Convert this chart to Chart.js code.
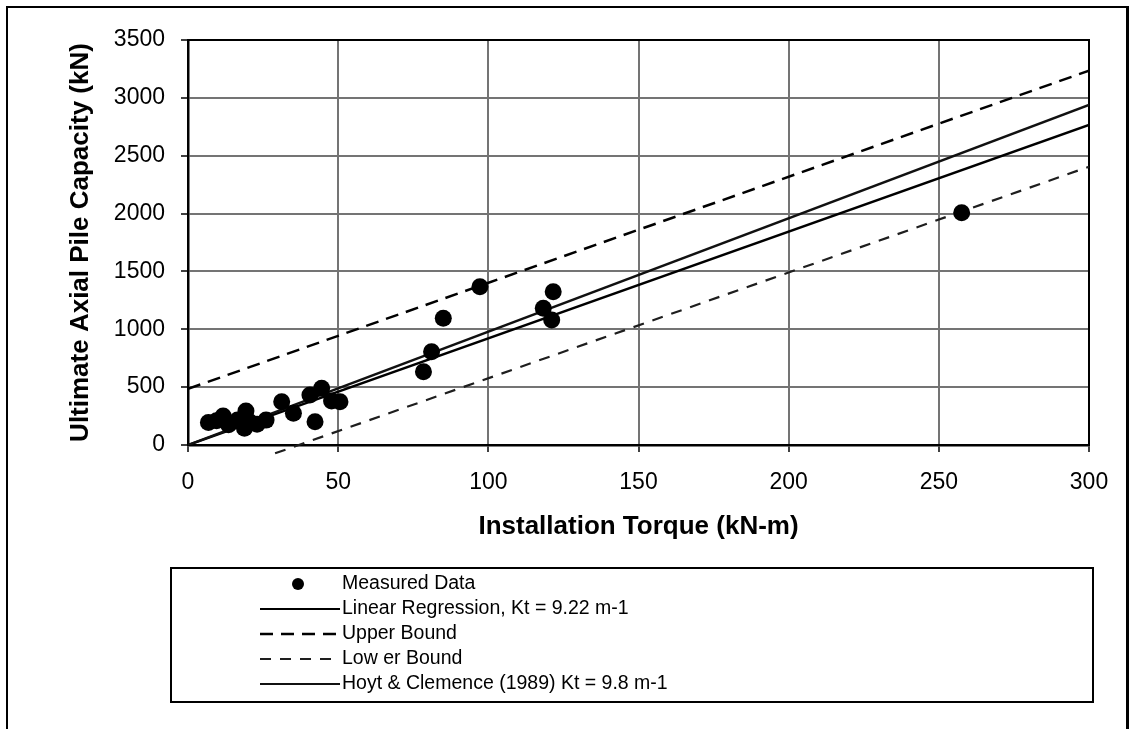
<!DOCTYPE html>
<html>
<head>
<meta charset="utf-8">
<title>Ultimate Axial Pile Capacity vs Installation Torque</title>
<script src="https://cdn.jsdelivr.net/npm/chart.js@4.4.1/dist/chart.umd.min.js"></script>
<style>
  html, body { margin: 0; padding: 0; background: #fff; }
  #wrap { position: relative; width: 1130px; height: 729px; overflow: hidden; }
  #frame { position: absolute; left: 6px; top: 6px; width: 1118px; height: 760px;
           border: 2px solid #000; border-right-width: 3px; }
  #c { position: absolute; left: 0; top: 0; }
</style>
</head>
<body>
<div id="wrap">
  <div id="frame"></div>
  <canvas id="c" width="1130" height="729"></canvas>
</div>
<script>
// Measured load tests: installation torque (kN-m) and ultimate capacity (kN)
const measuredTorque = [6.8, 9.5, 11.7, 13.5, 16.5, 18.8, 19.3, 20.5, 23, 26,
                        31.2, 35.1, 40.6, 42.3, 44.5, 47.8, 50.6,
                        78.4, 81.1, 85, 97.2, 118.3, 121.1, 121.6, 257.6];
const measuredCapacity = [195, 210, 250, 175, 215, 145, 294, 200, 180, 215,
                          374, 274, 432, 201, 490, 380, 374,
                          634, 806, 1095, 1368, 1181, 1080, 1325, 2008];

// Capacity-to-torque ratios Kt (m-1)
const ktRegression = 9.22;
const ktHoyt = 9.8;
const fitTorque = [0, 300];

// Bound lines (end points)
const upperTorque = [0, 300];
const upperCapacity = [485, 3235];
const lowerTorque = [29, 300];
const lowerCapacity = [-72, 2405];

// Axis ticks
const xTicks = [0, 50, 100, 150, 200, 250, 300];
const yTicks = [0, 500, 1000, 1500, 2000, 2500, 3000, 3500];

const FONT = "'Liberation Sans', Arial, Helvetica, sans-serif";
Chart.defaults.font.family = FONT;
Chart.defaults.color = '#000';

const pts = (xs, ys) => xs.map((x, i) => ({ x: x, y: ys[i] }));

const measured = pts(measuredTorque, measuredCapacity);
const regression = fitTorque.map(t => ({ x: t, y: ktRegression * t }));
const hoyt = fitTorque.map(t => ({ x: t, y: ktHoyt * t }));
const upper = pts(upperTorque, upperCapacity);
const lower = pts(lowerTorque, lowerCapacity);

// Black box around the plotting area
const plotBox = {
  id: 'plotBox',
  beforeDatasetsDraw(chart) {
    const { ctx, chartArea: a } = chart;
    ctx.save();
    ctx.strokeStyle = '#000';
    ctx.lineWidth = 2;
    ctx.strokeRect(a.left, a.top, a.right - a.left, a.bottom - a.top);
    ctx.restore();
  }
};

// Boxed legend below the axis title
const boxedLegend = {
  id: 'boxedLegend',
  afterDraw(chart) {
    const ctx = chart.ctx;
    const box = { x: 171, y: 568, w: 922, h: 134 };
    ctx.save();
    ctx.strokeStyle = '#000';
    ctx.lineWidth = 2;
    ctx.strokeRect(box.x, box.y, box.w, box.h);
    const rowY0 = 584, rowH = 25, sx0 = 260, sx1 = 340, tx = 342;
    ctx.font = '19.5px ' + FONT;
    ctx.textBaseline = 'middle';
    ctx.textAlign = 'left';
    chart.data.datasets.forEach((ds, i) => {
      const y = rowY0 + i * rowH;
      if (ds.showLine === false) {
        ctx.beginPath();
        ctx.fillStyle = ds.pointBackgroundColor;
        ctx.arc(298, y, 6, 0, Math.PI * 2);
        ctx.fill();
      } else {
        ctx.beginPath();
        ctx.strokeStyle = ds.borderColor;
        ctx.lineWidth = ds.legendWidth || ds.borderWidth;
        ctx.setLineDash(ds.borderDash || []);
        ctx.moveTo(sx0, y);
        ctx.lineTo(sx1, y);
        ctx.stroke();
        ctx.setLineDash([]);
      }
      ctx.fillStyle = '#000';
      ctx.fillText(ds.label, tx, y);
    });
    ctx.restore();
  }
};

new Chart(document.getElementById('c'), {
  type: 'scatter',
  data: {
    datasets: [
      { label: 'Measured Data', data: measured, showLine: false,
        pointRadius: 8.5, pointHoverRadius: 8.5, pointBackgroundColor: '#000',
        pointBorderColor: '#000', pointBorderWidth: 0, order: 0 },
      { label: 'Linear Regression, Kt = 9.22 m-1', data: regression, showLine: true,
        borderColor: '#000', borderWidth: 2.5, legendWidth: 2, pointRadius: 0, order: 2 },
      { label: 'Upper Bound', data: upper, showLine: true,
        borderColor: '#000', borderWidth: 2.5, legendWidth: 2.5, borderDash: [13, 8], pointRadius: 0, order: 3 },
      { label: 'Low er Bound', data: lower, showLine: true, clip: false,
        borderColor: '#1e1e1e', borderWidth: 2.2, legendWidth: 2, borderDash: [11, 9], pointRadius: 0, order: 4 },
      { label: 'Hoyt & Clemence (1989) Kt = 9.8 m-1', data: hoyt, showLine: true,
        borderColor: '#111', borderWidth: 2.5, legendWidth: 2, pointRadius: 0, order: 1 }
    ]
  },
  options: {
    responsive: false,
    animation: false,
    devicePixelRatio: 1,
    events: [],
    layout: { padding: { top: 40, right: 41, left: 0, bottom: 184 } },
    plugins: { legend: { display: false }, tooltip: { enabled: false } },
    scales: {
      x: {
        type: 'linear', min: 0, max: 300,
        afterBuildTicks(s) { s.ticks = xTicks.map(v => ({ value: v })); },
        afterFit(s) { s.height = 100; },
        ticks: { padding: 16.5, font: { size: 23 }, color: '#000', callback: v => String(v) },
        grid: { color: '#747474', lineWidth: 2, tickColor: '#000', tickLength: 7, tickWidth: 1.5 },
        border: { color: '#000', width: 2.5 },
        title: { display: true, text: 'Installation Torque (kN-m)', color: '#000',
                 font: { size: 26, weight: 'bold' }, padding: { top: 0, bottom: 2.4 } }
      },
      y: {
        type: 'linear', min: 0, max: 3500,
        afterBuildTicks(s) { s.ticks = yTicks.map(v => ({ value: v })); },
        afterFit(s) { s.width = 188; },
        ticks: { padding: 16, font: { size: 23 }, color: '#000', callback: v => String(v) },
        grid: { color: '#747474', lineWidth: 2, tickColor: '#000', tickLength: 7, tickWidth: 1.5 },
        border: { color: '#000', width: 2.5 },
        title: { display: true, text: 'Ultimate Axial Pile Capacity (kN)', color: '#000',
                 font: { size: 26, weight: 'bold' }, padding: { top: 65.4, bottom: 0 } }
      }
    }
  },
  plugins: [plotBox, boxedLegend]
});
</script>
</body>
</html>
